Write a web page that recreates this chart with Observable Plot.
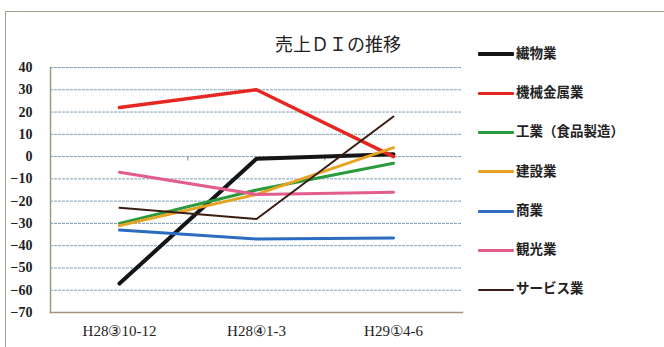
<!DOCTYPE html>
<html><head><meta charset="utf-8">
<script src="https://cdn.jsdelivr.net/npm/d3@7"></script>
<script src="https://cdn.jsdelivr.net/npm/@observablehq/plot@0.6"></script>
<style>
body{margin:0;background:#fff;}
#wrap{position:relative;width:664px;height:347px;overflow:hidden;background:#fff;}
#frame{position:absolute;left:5px;top:11px;width:700px;height:400px;border-left:1.5px solid #a39d8c;border-top:1.5px solid #a39d8c;}
#title{position:absolute;left:218px;width:240px;top:32px;text-align:center;font-family:"Noto Sans CJK JP";font-size:18px;line-height:22px;color:#222;}
#chart{position:absolute;left:0;top:0;}
#legend{position:absolute;left:478px;top:0;}
.item{position:absolute;left:0;white-space:nowrap;font-family:"Noto Sans CJK JP";font-size:13.5px;font-weight:600;color:#222;line-height:20px;}
.swatch{display:inline-block;width:36px;vertical-align:middle;margin-right:2px;border-radius:1px;}
</style></head>
<body>
<div id="wrap">
<div id="frame"></div>
<div id="chart"></div>
<div id="title">売上ＤＩの推移</div>
<div id="legend"></div>
</div>
<script>
const categories = ["H28③10-12", "H28④1-3", "H29①4-6"];
const seriesNames = ["繊物業", "機械金属業", "工業（食品製造）", "建設業", "商業", "観光業", "サービス業"];
const s繊物業 = [-57, -1, 1];
const s機械金属業 = [22, 30, 0];
const s工業 = [-30, -15, -3];
const s建設業 = [-31, -17, 4];
const s商業 = [-33, -37, -36.5];
const s観光業 = [-7, -17, -16];
const sサービス業 = [-23, -28, 18];
const seriesValues = [s繊物業, s機械金属業, s工業, s建設業, s商業, s観光業, sサービス業];
const seriesColors = ["#151515", "#e6261f", "#2a9a3c", "#e9a322", "#2b6cc0", "#e25d8e", "#3a1d12"];
const seriesWidths = [4, 3.5, 3, 3, 3, 3, 2];
const yTicks = [40, 30, 20, 10, 0, -10, -20, -30, -40, -50, -60, -70];

const W = 664, H = 347, mL = 50, mR = 202, mT = 67, mB = 35;
const step = (W - mL - mR) / categories.length;

const marks = [
  Plot.gridY(yTicks.filter(t => t > -70), {stroke: "#7f9fb4", strokeOpacity: 1, strokeWidth: 1, strokeDasharray: "3,1"}),
  Plot.frame({anchor: "left", stroke: "#9c9a80", strokeWidth: 1.5}),
  Plot.frame({anchor: "bottom", stroke: "#a3957a", strokeWidth: 1.5}),
  Plot.ruleX(categories.slice(1), {x: d => d, dx: -step / 2, y1: 0, y2: -2, stroke: "#8a8a7a", strokeWidth: 1}),
  Plot.axisY({ticks: yTicks, tickSize: 0, tickPadding: 18, fontSize: 14, fontWeight: "bold", fontFamily: "Liberation Serif", fill: "#222", label: null}),
  Plot.axisX({tickSize: 0, tickPadding: 13, fontSize: 15, fontFamily: "Liberation Serif", fill: "#222", label: null})
];
seriesNames.forEach((name, i) => {
  const rows = categories.map((c, j) => ({series: name, cat: c, value: seriesValues[i][j]}));
  marks.push(Plot.line(rows, {x: "cat", y: "value", stroke: seriesColors[i], strokeWidth: seriesWidths[i], strokeLinejoin: "round", strokeLinecap: "round"}));
});

const chart = Plot.plot({
  width: W, height: H,
  marginLeft: mL, marginRight: mR, marginTop: mT, marginBottom: mB,
  style: {background: "transparent", overflow: "visible"},
  x: {type: "point", domain: categories, padding: 0.5, label: null, axis: null},
  y: {domain: [-70, 40], label: null, axis: null},
  marks
});
document.getElementById("chart").appendChild(chart);

const legend = document.getElementById("legend");
const legendTops = [52, 92, 131, 170, 210, 248, 287];
seriesNames.forEach((name, i) => {
  const d = document.createElement("div");
  d.className = "item";
  d.style.top = (legendTops[0] + i * 39.2 - 10) + "px";
  d.innerHTML = `<span class="swatch" style="height:${seriesWidths[i]}px;background:${seriesColors[i]}"></span>${name}`;
  legend.appendChild(d);
});
</script>
</body></html>
